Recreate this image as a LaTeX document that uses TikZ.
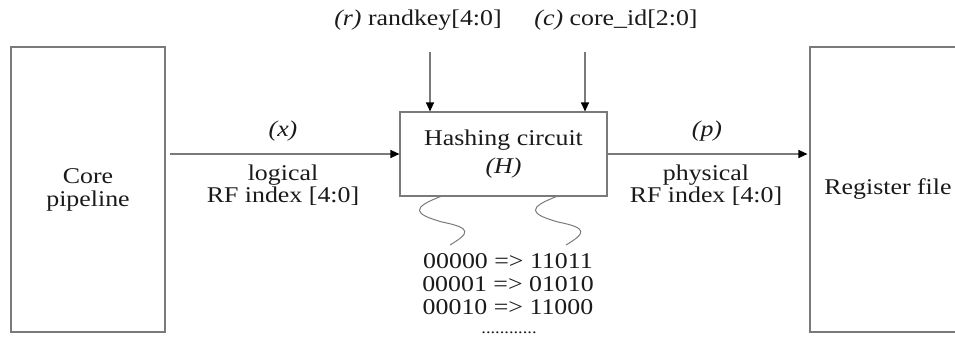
\documentclass[tikz,border=0pt]{standalone}
\usepackage{fontspec}
\setmainfont{Liberation Serif}[FakeStretch=1.15]
\usetikzlibrary{arrows.meta}
\definecolor{linegray}{HTML}{7A7A7A}
\definecolor{ink}{HTML}{1A1A1A}
\begin{document}
\begin{tikzpicture}[x=1pt,y=-1pt,
  font=\fontsize{22.5}{26}\selectfont, text=ink,
  block/.style={draw=linegray, line width=1.1pt, rectangle, inner sep=0pt, align=center},
  lbl/.style={inner sep=0pt, align=center},
  sig/.style={draw=linegray, line width=1.1pt, -{Triangle[length=9pt,width=8pt,color=black]}},
  wave/.style={draw=linegray, line width=1pt}]
\useasboundingbox (0,0) rectangle (955,345);
\clip (0,0) rectangle (955,345);

% main blocks
\node[block, minimum width=154pt, minimum height=285pt] (core) at (88,189.5) {Core\\[-3pt]pipeline};
\node[block, minimum width=207pt, minimum height=84pt] (hash) at (503.5,154) {Hashing circuit\\[2pt]\textit{(H)}};
\node[block, minimum width=156pt, minimum height=285pt] (reg) at (888,189.5) {Register file};

% control inputs
\node[lbl] (rkey) at (418,20) {\textit{(r)} randkey[4:0]};
\node[lbl] (cid) at (616,20) {\textit{(c)} core\_id[2:0]};
\coordinate (rin) at (430,52);
\coordinate (cin) at (585,52);
\draw[sig] (rin) -- (rin |- hash.north);
\draw[sig] (cin) -- (cin |- hash.north);

% index signals
\draw[sig] ([xshift=4pt]core.east |- hash.west) -- (hash.west);
\draw[sig] (hash.east) -- ([xshift=-2pt]reg.west |- hash.east);
\node[lbl] (xlab) at (283,131) {\textit{(x)}};
\node[lbl] (xdesc) at (283,185) {logical\\[-4pt]RF index [4:0]};
\node[lbl] (plab) at (707,131) {\textit{(p)}};
\node[lbl] (pdesc) at (706,185) {physical\\[-4pt]RF index [4:0]};

% mapping table and wavy leaders
\node[lbl, font=\fontsize{22.5}{23}\selectfont] (table) at (508,284) {00000 => 11011\\00001 => 01010\\00010 => 11000};
\node[lbl, font=\fontsize{16}{18}\selectfont] (dots) at (509,333) {............};
\coordinate (w1) at (442,196);
\coordinate (w2) at (558,196);
\foreach \w in {w1,w2}{
  \draw[wave] (\w) .. controls ++(-32,12) and ++(-28,-8) .. ++(0,26)
                   .. controls ++(30,6) and ++(20,-12) .. ++(8,23);
}
\end{tikzpicture}
\end{document}
